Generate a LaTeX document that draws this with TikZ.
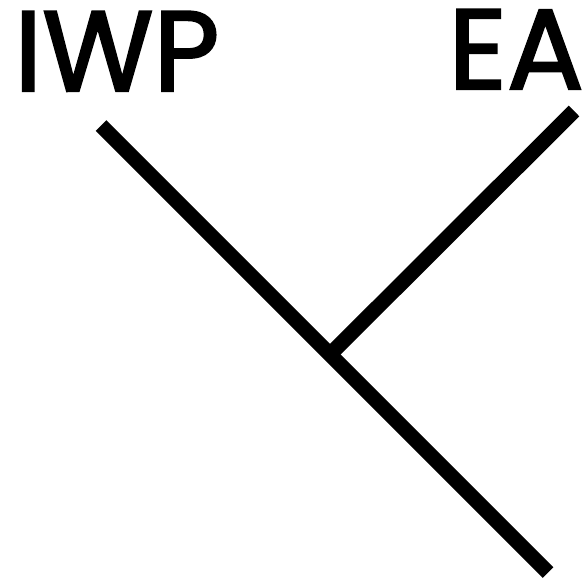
\documentclass[tikz,border=0pt]{standalone}
\usepackage{fontspec}
\newfontfamily\lblfont{Poppins}[FakeBold=2]
\usetikzlibrary{calc}
\tikzset{
  lbl/.style={inner sep=0pt, font=\lblfont\fontsize{114}{114}\selectfont},
  branch/.style={line width=15pt, line cap=butt}
}
\begin{document}
\begin{tikzpicture}[x=1pt,y=1pt]
\useasboundingbox (0,0) rectangle (583,-578);
\node[lbl, anchor=base west] (IWP) at (14,-91) {IWP};
\node[lbl, anchor=base east] (EA) at (584,-89) {EA};
\coordinate (a) at (101,-125.5);
\coordinate (b) at (548,-572.5);
\coordinate (c) at (574,-111);
\coordinate (j) at (330,-354.5);
\draw[branch] (a) -- (b);
\draw[branch] (c) -- (j);
\end{tikzpicture}
\end{document}
